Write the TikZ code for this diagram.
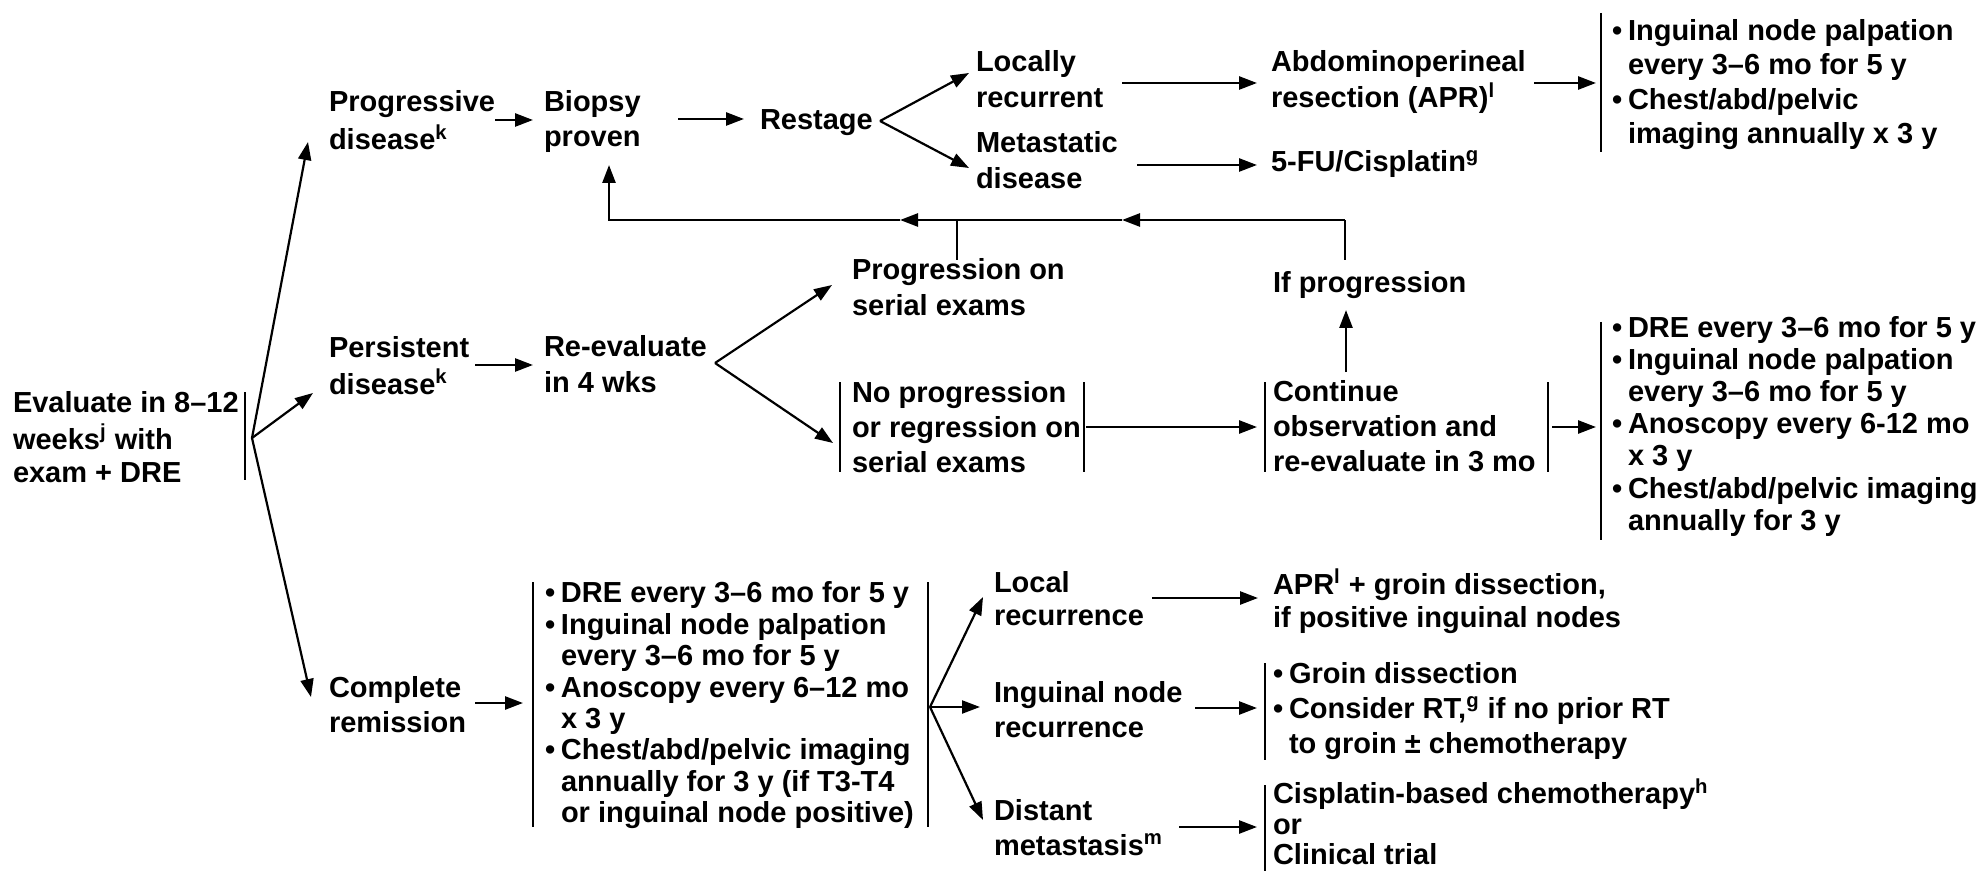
\documentclass[tikz,border=0pt]{standalone}
\usepackage{fontspec}
\setmainfont{Liberation Sans}
\usetikzlibrary{arrows.meta}
\newcommand\myb{\makebox[8pt][l]{•}}
\newcommand\myi{\hspace*{8pt}}
\begin{document}
\begin{tikzpicture}[x=0.5pt,y=-0.5pt,
  tbase/.style={anchor=north west,inner sep=0pt,outer sep=0pt,align=left},
  t35/.style={tbase,font={\fontsize{14.5}{17.5}\selectfont\bfseries}},
  t36/.style={tbase,font={\fontsize{14.5}{18}\selectfont\bfseries}},
  t34/.style={tbase,font={\fontsize{14.5}{17.25}\selectfont\bfseries}},
  t33/.style={tbase,font={\fontsize{14.5}{16.5}\selectfont\bfseries}},
  t32/.style={tbase,font={\fontsize{14.5}{16.1}\selectfont\bfseries}},
  t31/.style={tbase,font={\fontsize{14.5}{15.7}\selectfont\bfseries}},
  t30/.style={tbase,font={\fontsize{14.5}{15.3}\selectfont\bfseries}},
  ln/.style={line width=1.3pt},
  bar/.style={line width=1.1pt},
  arr/.style={line width=1.3pt,-{Triangle[length=9pt,width=6.5pt]}},
  arrt/.style={line width=1.1pt,-{Triangle[length=9pt,width=6.5pt]}}]
\useasboundingbox (0,0) rectangle (1984,871);

% ---------- nodes ----------
\node[t33] (ev) at (13,389) {\strut Evaluate in 8–12\\weeks\textsuperscript{j} with\\exam + DRE};

\node[t35] (prog) at (329,87.5) {\strut Progressive\\disease\textsuperscript{k}};
\node[t35] (biopsy) at (544,87.5) {\strut Biopsy\\proven};
\node[t35] (restage) at (760,105.5) {\strut Restage};
\node[t36] (locally) at (976,46.8) {\strut Locally\\recurrent};
\node[t36] (apr) at (1271,46.8) {\strut Abdominoperineal\\resection (APR)\textsuperscript{l}};
\node[t36] (meta) at (976,127.8) {\strut Metastatic\\disease};
\node[t35] (fu) at (1271,147.5) {\strut 5-FU/Cisplatin\textsuperscript{g}};
\node[t34] (toplist) at (1612,15.9) {\strut\myb Inguinal node palpation\\\myi every 3–6 mo for 5 y\\\myb Chest/abd/pelvic\\\myi imaging annually x 3 y};

\node[t35] (progr) at (852,255.5) {\strut Progression on\\serial exams};
\node[t35] (ifprog) at (1273,268.5) {\strut If progression};

\node[t33] (pers) at (329,333.9) {\strut Persistent\\disease\textsuperscript{k}};
\node[t35] (reeval) at (544,332.5) {\strut Re-evaluate\\in 4 wks};
\node[t35] (noprog) at (852,377.5) {\strut No progression\\or regression on\\serial exams};
\node[t35] (cont) at (1273,376.5) {\strut Continue\\observation and\\re-evaluate in 3 mo};
\node[t32] (midlist) at (1612,314.6) {\strut\myb DRE every 3–6 mo for 5 y\\\myb Inguinal node palpation\\\myi every 3–6 mo for 5 y\\\myb Anoscopy every 6-12 mo\\\myi x 3 y\\\myb Chest/abd/pelvic imaging\\\myi annually for 3 y};

\node[t35] (compl) at (329,672.5) {\strut Complete\\remission};
\node[t31] (botlist) at (545,581) {\strut\myb DRE every 3–6 mo for 5 y\\\myb Inguinal node palpation\\\myi every 3–6 mo for 5 y\\\myb Anoscopy every 6–12 mo\\\myi x 3 y\\\myb Chest/abd/pelvic imaging\\\myi annually for 3 y (if T3-T4\\\myi or inguinal node positive)};
\node[t33] (local) at (994,568.9) {\strut Local\\recurrence};
\node[t33] (aprg) at (1273,568.9) {\strut APR\textsuperscript{l} + groin dissection,\\if positive inguinal nodes};
\node[t35] (ingrec) at (994,677.5) {\strut Inguinal node\\recurrence};
\node[t35] (groin) at (1273,658.5) {\strut\myb Groin dissection\\\myb Consider RT,\textsuperscript{g} if no prior RT\\\myi to groin ± chemotherapy};
\node[t35] (distant) at (994,795.5) {\strut Distant\\metastasis\textsuperscript{m}};
\node[t30] (cis) at (1273,778.6) {\strut Cisplatin-based chemotherapy\textsuperscript{h}\\or\\Clinical trial};

% ---------- bars ----------
\draw[bar] (245,392) -- (245,480);
\draw[bar] (1601,13) -- (1601,152);
\draw[bar] (840,382) -- (840,472);
\draw[bar] (1084,382) -- (1084,472);
\draw[bar] (1265,382) -- (1265,472);
\draw[bar] (1548,382) -- (1548,472);
\draw[bar] (1601,322) -- (1601,540);
\draw[bar] (533,582) -- (533,827);
\draw[bar] (928,582) -- (928,827);
\draw[bar] (1265,663) -- (1265,760);
\draw[bar] (1265,785) -- (1265,871);

% ---------- fork points ----------
\coordinate (f0) at (252,438);
\coordinate (f1) at (880,121);
\coordinate (f2) at (715,363);
\coordinate (f3) at (930,707);

% ---------- connectors ----------
\draw[arrt] (f0) -- (308,142);
\draw[arrt] (f0) -- (313,393);
\draw[arrt] (f0) -- (311,697);

\draw[arr] (prog.east |- 0,120) -- (533,120);
\draw[arr] (678,119) -- (744,119);
\draw[arrt] (f1) -- (969,73);
\draw[arrt] (f1) -- (969,168);
\draw[arr] (1122,83) -- (1257,83);
\draw[arr] (1534,83) -- (1596,83);
\draw[arr] (1137,165) -- (1257,165);

% feedback loop
\coordinate (fbR) at (1345,220);
\coordinate (fbM1) at (1122,220);
\coordinate (fbM2) at (900,220);
\coordinate (fbL) at (609,220);
\draw[bar] (1345,260) -- (fbR);
\draw[bar] (957,260) -- (957,220);
\draw[arr] (fbR) -- (fbM1);
\draw[arr] (fbM1) -- (fbM2);
\draw[arr] (fbM2) -- (fbL) -- (609,165);
\draw[arr] (1346,372) -- (1346,310);

\draw[arr] (475,365) -- (533,365);
\draw[arrt] (f2) -- (832,285);
\draw[arrt] (f2) -- (833,443);
\draw[arr] (1086,427) -- (1257,427);
\draw[arr] (1552,427) -- (1596,427);

\draw[arr] (475,703) -- (523,703);
\draw[arrt] (f3) -- (983,597);
\draw[arrt] (f3) -- (980,707);
\draw[arrt] (f3) -- (983,820);
\draw[arr] (1152,598) -- (1258,598);
\draw[arr] (1195,708) -- (1257,708);
\draw[arr] (1179,827) -- (1257,827);
\end{tikzpicture}
\end{document}
